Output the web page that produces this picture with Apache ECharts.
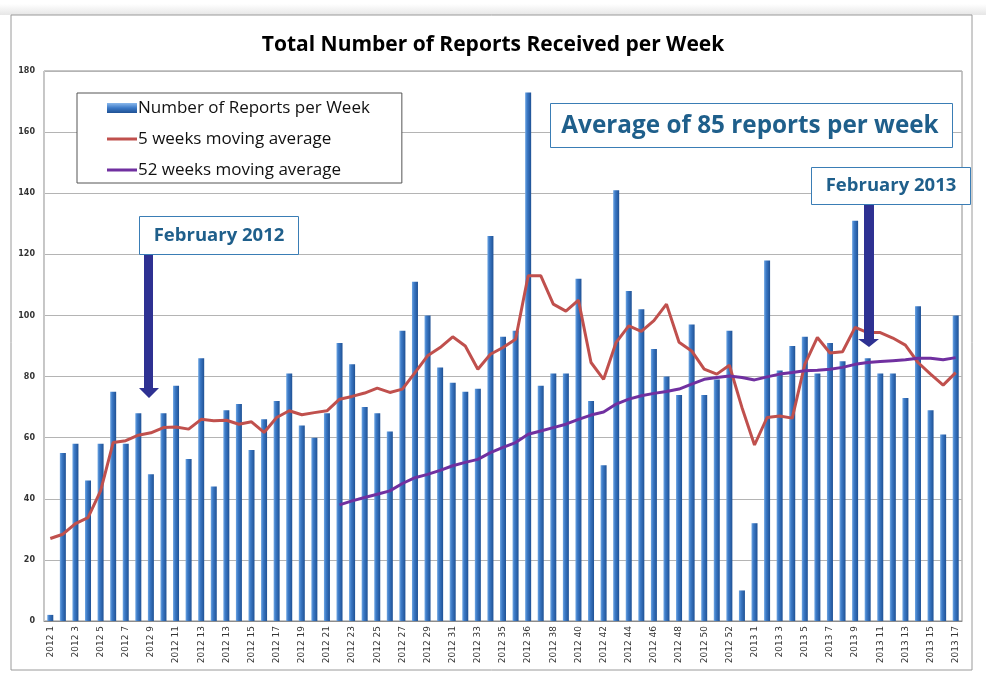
<!DOCTYPE html>
<html>
<head>
<meta charset="utf-8">
<script src="https://cdn.jsdelivr.net/npm/echarts@6/dist/echarts.min.js"></script>
<style>
html,body{margin:0;padding:0;background:#fff;}
#chart{width:986px;height:686px;}
</style>
</head>
<body>
<div id="chart"></div>
<script>
// Week categories (as labelled in the source chart)
const categories = [
  "2012 1","2012 2","2012 3","2012 4","2012 5","2012 6","2012 7","2012 8","2012 9","2012 10",
  "2012 11","2012 12","2012 13","2012 14","2012 13","2012 14","2012 15","2012 16","2012 17","2012 18",
  "2012 19","2012 20","2012 21","2012 22","2012 23","2012 24","2012 25","2012 26","2012 27","2012 28",
  "2012 29","2012 30","2012 31","2012 32","2012 33","2012 34","2012 35","2012 36","2012 36","2012 37",
  "2012 38","2012 39","2012 40","2012 41","2012 42","2012 43","2012 44","2012 45","2012 46","2012 47",
  "2012 48","2012 49","2012 50","2012 51","2012 52","2012 53","2013 1","2013 2","2013 3","2013 4",
  "2013 5","2013 6","2013 7","2013 8","2013 9","2013 10","2013 11","2013 12","2013 13","2013 14",
  "2013 15","2013 16","2013 17"
];

// Number of reports per week
const reportsPerWeek = [
  2,55,58,46,58,75,58,68,48,68,77,53,86,44,69,71,56,66,72,81,64,60,68,91,84,
  70,68,62,95,111,100,83,78,75,76,126,93,95,173,77,81,81,112,72,51,141,108,102,89,
  80,74,97,74,79,95,10,32,118,82,90,93,81,91,85,131,86,81,81,73,103,69,61,100
];

// 5 weeks moving average
const movingAvg5 = [
  27,28.4,31.9,33.8,42.6,58.4,59,60.8,61.6,63.3,63.5,62.8,66,65.5,65.7,64.4,65.2,61.7,66.6,68.8,67.5,68.2,68.8,72.6,73.5,
  74.6,76.2,74.8,75.9,81.3,86.8,89.5,93,90,82.4,87.3,89.5,92.2,113,113,103.7,101.4,105,84.6,79.1,91.2,96.6,94.8,98.3,
  103.7,91.2,88.4,82.4,80.8,83.7,69.9,57.6,66.6,67.1,66.4,84,92.8,87.7,88.1,96.1,94.4,94.4,92.6,90.3,84.6,80.8,77.2,81.3
];

// 52 weeks moving average
const movingAvg52 = [
  null,null,null,null,null,null,null,null,null,null,null,null,null,null,null,null,null,null,null,null,null,null,null,
  38,39.3,40.4,41.5,42.6,45,46.9,48,49.3,50.8,51.9,52.9,55.1,56.8,58.4,61.1,62.2,63.3,64.4,66,67.4,68.4,71,72.6,73.7,74.5,
  75.1,75.9,77.5,79.1,79.7,80.2,79.7,78.9,79.9,80.8,81.3,81.9,82.1,82.4,83,84,84.6,84.9,85.2,85.5,86,86,85.5,86.2
];

const yTicks = { min: 0, max: 180, interval: 20 };

const annoColor = '#1f5f8b';
const boxStroke = '#3a7db5';
const arrowColor = '#2e3192';

const chart = echarts.init(document.getElementById('chart'), null, {renderer: 'canvas'});

const barGradient = new echarts.graphic.LinearGradient(0, 0, 1, 0, [
  {offset: 0, color: '#6fa6e2'},
  {offset: 0.35, color: '#3b79c6'},
  {offset: 1, color: '#1f5194'}
]);
const legendBarGradient = new echarts.graphic.LinearGradient(0, 0, 0, 1, [
  {offset: 0, color: '#8ab8ec'},
  {offset: 0.5, color: '#3b79c6'},
  {offset: 1, color: '#1f5194'}
]);

// legend line icon: a 3px stroke centred in the 30x10 icon box
const lineIcon = 'path://M0,0L0.01,0M0,3.5L30,3.5L30,6.5L0,6.5ZM29.99,10L30,10';

const option = {
  backgroundColor: '#fff',
  animation: false,
  title: {
    text: 'Total Number of Reports Received per Week',
    left: 'center',
    top: 30,
    textStyle: {fontFamily: 'Open Sans', fontWeight: 'bold', fontSize: 21, color: '#000'}
  },
  legend: {
    orient: 'vertical',
    left: 77,
    top: 93,
    backgroundColor: '#fff',
    borderColor: '#555',
    borderWidth: 1,
    padding: [5, 32, 3, 30],
    itemGap: 11,
    itemWidth: 30,
    itemHeight: 10,
    textStyle: {fontFamily: 'Open Sans', fontSize: 17, lineHeight: 20, color: '#111', padding: [0,0,0,-4]},
    data: [
      {name: 'Number of Reports per Week', icon: 'rect', itemStyle: {color: legendBarGradient}},
      {name: '5 weeks moving average', icon: lineIcon, itemStyle: {color: '#c0504d'}},
      {name: '52 weeks moving average', icon: lineIcon, itemStyle: {color: '#7030a0'}}
    ]
  },
  grid: {
    left: 44, right: 24, top: 71, bottom: 65,
    show: true, borderColor: '#8c8c8c', borderWidth: 1, backgroundColor: 'transparent'
  },
  xAxis: {
    type: 'category',
    data: categories,
    boundaryGap: true,
    axisLine: {show: true, lineStyle: {color: '#8c8c8c'}},
    axisTick: {show: false},
    axisLabel: {
      interval: 1, rotate: 90, fontSize: 9, color: '#333',
      fontFamily: 'DejaVu Sans', margin: 5
    },
    splitLine: {show: false}
  },
  yAxis: {
    type: 'value',
    min: yTicks.min, max: yTicks.max, interval: yTicks.interval,
    axisLine: {show: true, lineStyle: {color: '#c8c8c8'}},
    axisTick: {show: false},
    axisLabel: {fontSize: 8, fontWeight: 'bold', color: '#333', fontFamily: 'DejaVu Sans', margin: 9},
    splitLine: {show: true, lineStyle: {color: '#b4b4b4', width: 1}}
  },
  series: [
    {
      name: 'Number of Reports per Week',
      type: 'bar',
      data: reportsPerWeek,
      barWidth: 6,
      itemStyle: {color: barGradient},
      z: 2
    },
    {
      name: '5 weeks moving average',
      type: 'line',
      data: movingAvg5,
      symbol: 'none',
      lineStyle: {color: '#c0504d', width: 3},
      itemStyle: {color: '#c0504d'},
      z: 3
    },
    {
      name: '52 weeks moving average',
      type: 'line',
      data: movingAvg52,
      symbol: 'none',
      connectNulls: false,
      lineStyle: {color: '#7030a0', width: 3},
      itemStyle: {color: '#7030a0'},
      z: 3
    }
  ],
  graphic: [
    // outer frame
    {type: 'rect', shape: {x: 0, y: 4, width: 986, height: 11},
     style: {fill: new echarts.graphic.LinearGradient(0,0,0,1,[{offset:0,color:'#ffffff'},{offset:1,color:'#e6e6e6'}])}, z: -10, silent: true},
    {type: 'rect', shape: {x: 11, y: 15, width: 961, height: 655},
     style: {fill: 'none', stroke: '#9a9a9a', lineWidth: 1}, z: -5, silent: true},
    // February 2012 arrow
    {type: 'polygon', shape: {points: [[144,255],[153,255],[153,388],[159,388],[149,398],[139,388],[144,388]]},
     style: {fill: arrowColor}, z: 10},
    {type: 'rect', shape: {x: 139.5, y: 216.5, width: 159, height: 38},
     style: {fill: '#fff', stroke: boxStroke, lineWidth: 1}, z: 11},
    {type: 'text', x: 219, y: 236, z: 12,
     style: {text: 'February 2012', fill: annoColor, font: 'bold 18.5px "Open Sans"', align: 'center', verticalAlign: 'middle'}},
    // February 2013 arrow
    {type: 'polygon', shape: {points: [[864,204],[874,204],[874,339],[879,339],[869,347],[858,339],[864,339]]},
     style: {fill: arrowColor}, z: 10},
    {type: 'rect', shape: {x: 811.5, y: 167.5, width: 159, height: 37},
     style: {fill: '#fff', stroke: boxStroke, lineWidth: 1}, z: 11},
    {type: 'text', x: 891, y: 186, z: 12,
     style: {text: 'February 2013', fill: annoColor, font: 'bold 18.5px "Open Sans"', align: 'center', verticalAlign: 'middle'}},
    // Average box
    {type: 'rect', shape: {x: 550.5, y: 103.5, width: 402, height: 44},
     style: {fill: '#fff', stroke: boxStroke, lineWidth: 1}, z: 11},
    {type: 'text', x: 750, y: 126, z: 12,
     style: {text: 'Average of 85 reports per week', fill: annoColor, font: 'bold 24.3px "Open Sans"', align: 'center', verticalAlign: 'middle'}}
  ]
};

chart.setOption(option);
</script>
</body>
</html>
